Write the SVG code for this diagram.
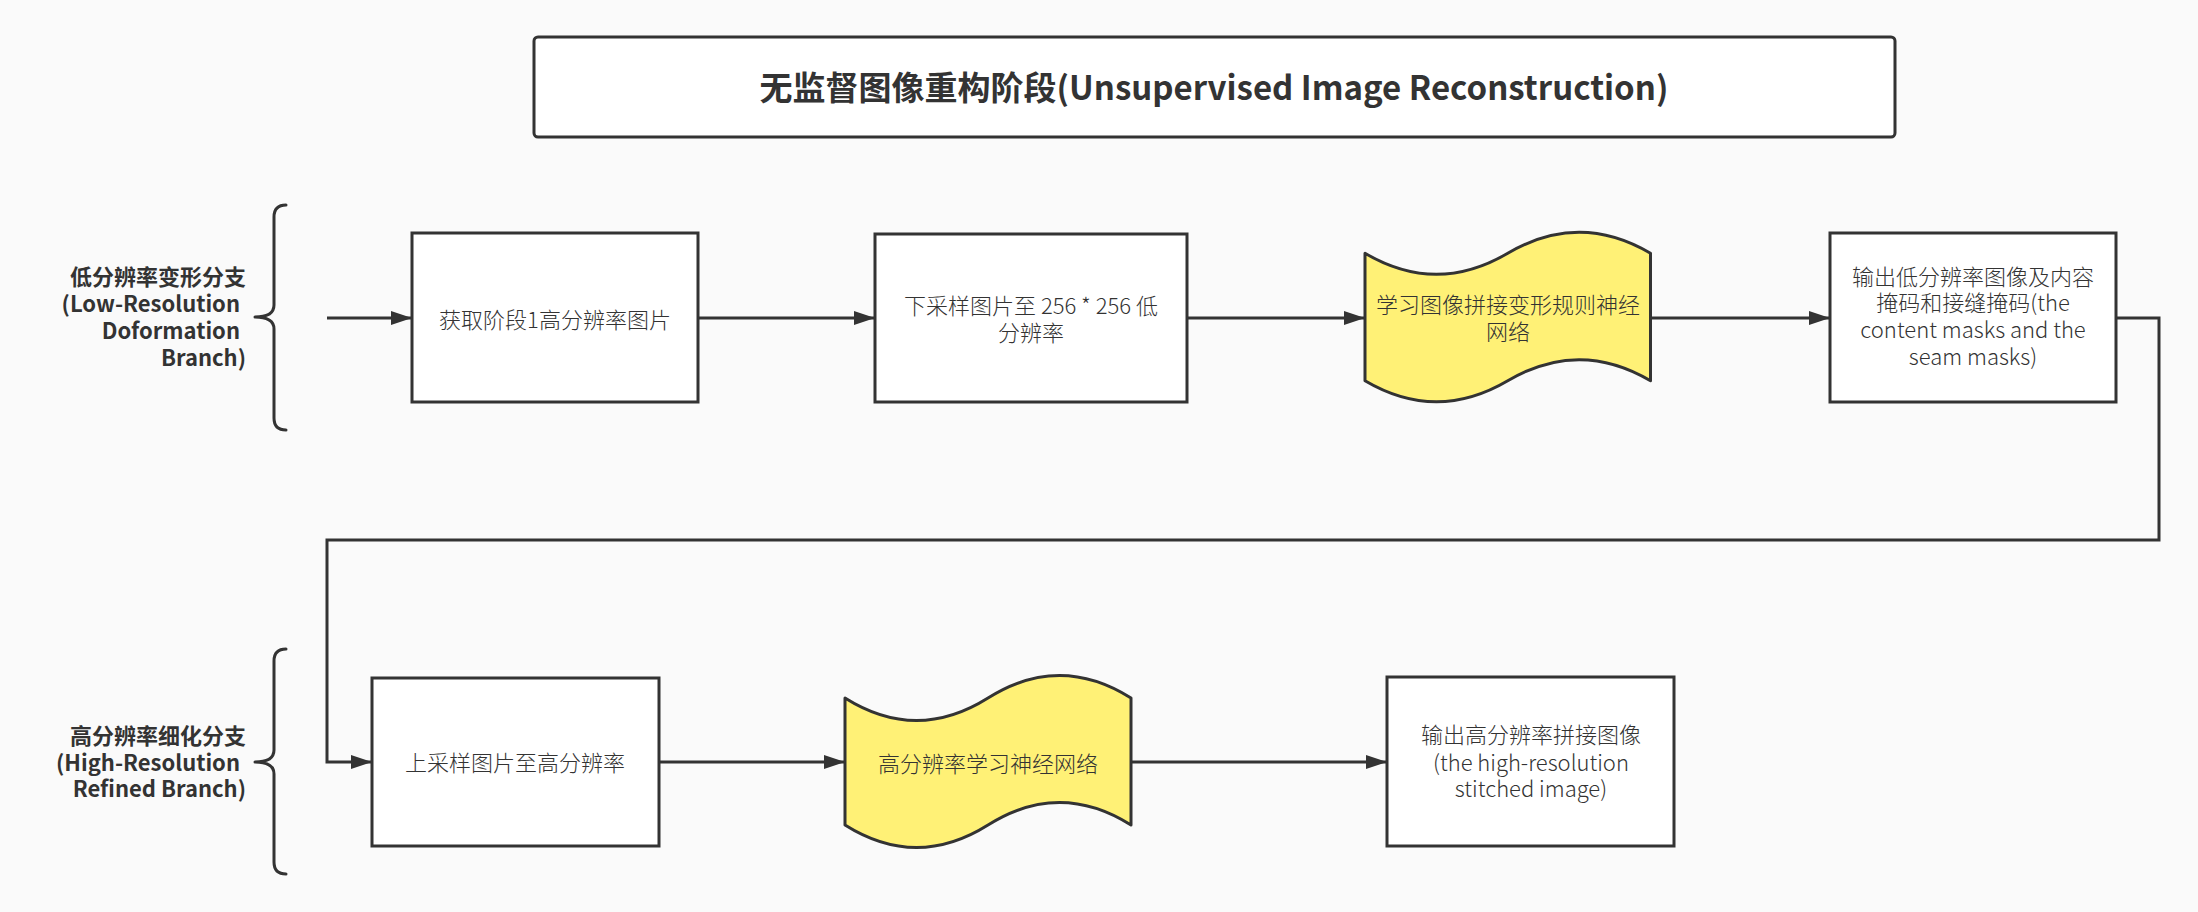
<svg xmlns="http://www.w3.org/2000/svg" width="2198" height="912" viewBox="0 0 2198 912">
<style>
.bg{fill:#fafafa}
.box{fill:#ffffff;stroke:#333333;stroke-width:3}
.tape{fill:#fff176;stroke:#333333;stroke-width:3;stroke-linejoin:round}
.brace{fill:none;stroke:#333333;stroke-width:3;stroke-linecap:round;stroke-linejoin:round}
.conn{fill:none;stroke:#333333;stroke-width:3}
.t{font-family:"Noto Sans CJK SC","Noto Sans",sans-serif;font-size:22px;font-weight:300;fill:#333333;text-anchor:middle}
.lbl{font-family:"Noto Sans CJK SC","Noto Sans",sans-serif;font-size:22px;font-weight:bold;fill:#333333;text-anchor:end}
.title{font-family:"Noto Sans CJK SC","Noto Sans",sans-serif;font-size:33px;font-weight:bold;fill:#333333;text-anchor:middle}
</style>
<defs>
<marker id="arr" markerUnits="userSpaceOnUse" markerWidth="22" markerHeight="16" refX="21" refY="7" orient="auto" viewBox="0 0 22 14">
<path d="M0,0 L21,7 L0,14 Z" fill="#333333"/>
</marker>
</defs>
<rect class="bg" x="0" y="0" width="2198" height="912"/>

<g id="title">
<rect class="box" x="534" y="37" width="1361" height="100" rx="4"/>
<text class="title" x="1214" y="100">无监督图像重构阶段(Unsupervised Image Reconstruction)</text>
</g>

<g id="label-low">
<path class="brace" d="M286,205 Q274,205 274,217 L274,305 Q274,317 255,317 Q274,317 274,329 L274,418 Q274,430 286,430"/>
<text class="lbl" x="246" y="285">低分辨率变形分支</text>
<text class="lbl" x="240" y="312">(Low-Resolution</text>
<text class="lbl" x="240" y="339">Doformation</text>
<text class="lbl" x="246" y="366">Branch)</text>
</g>

<g id="label-high">
<path class="brace" d="M286,649 Q274,649 274,661 L274,750 Q274,762 255,762 Q274,762 274,774 L274,862 Q274,874 286,874"/>
<text class="lbl" x="246" y="744">高分辨率细化分支</text>
<text class="lbl" x="240" y="771">(High-Resolution</text>
<text class="lbl" x="246" y="797">Refined Branch)</text>
</g>

<g id="connectors">
<line class="conn" x1="327" y1="318" x2="412" y2="318" marker-end="url(#arr)"/>
<line class="conn" x1="698" y1="318" x2="875" y2="318" marker-end="url(#arr)"/>
<line class="conn" x1="1187" y1="318" x2="1365" y2="318" marker-end="url(#arr)"/>
<line class="conn" x1="1650" y1="318" x2="1830" y2="318" marker-end="url(#arr)"/>
<polyline class="conn" points="2116,318 2159,318 2159,540 327,540 327,762 372,762" marker-end="url(#arr)"/>
<line class="conn" x1="659" y1="762" x2="845" y2="762" marker-end="url(#arr)"/>
<line class="conn" x1="1131" y1="762" x2="1387" y2="762" marker-end="url(#arr)"/>
</g>

<g id="node-fetch">
<rect class="box" x="412" y="233" width="286" height="169"/>
<text class="t" x="555" y="328">获取阶段1高分辨率图片</text>
</g>

<g id="node-downsample">
<rect class="box" x="875" y="234" width="312" height="168"/>
<text class="t" x="1031" y="314">下采样图片至 256 * 256 低</text>
<text class="t" x="1031" y="341">分辨率</text>
</g>

<g id="node-warp-net">
<path class="tape" d="M1365,253.3 Q1436.4,295.4 1507.75,253.3 Q1579.1,211.3 1650.5,253.3 L1650.5,380.7 Q1579.1,338.6 1507.75,380.7 Q1436.4,422.7 1365,380.7 Z"/>
<text class="t" x="1508" y="313">学习图像拼接变形规则神经</text>
<text class="t" x="1508" y="340">网络</text>
</g>

<g id="node-low-output">
<rect class="box" x="1830" y="233" width="286" height="169"/>
<text class="t" x="1973" y="285">输出低分辨率图像及内容</text>
<text class="t" x="1973" y="311">掩码和接缝掩码(the</text>
<text class="t" x="1973" y="338">content masks and the</text>
<text class="t" x="1973" y="365">seam masks)</text>
</g>

<g id="node-upsample">
<rect class="box" x="372" y="678" width="287" height="168"/>
<text class="t" x="515" y="771">上采样图片至高分辨率</text>
</g>

<g id="node-refine-net">
<path class="tape" d="M845,698 Q916.5,743 988,698 Q1059.5,653 1131,698 L1131,825 Q1059.5,780 988,825 Q916.5,870 845,825 Z"/>
<text class="t" x="988" y="772">高分辨率学习神经网络</text>
</g>

<g id="node-high-output">
<rect class="box" x="1387" y="677" width="287" height="169"/>
<text class="t" x="1531" y="743">输出高分辨率拼接图像</text>
<text class="t" x="1531" y="771">(the high-resolution</text>
<text class="t" x="1531" y="797">stitched image)</text>
</g>
</svg>
